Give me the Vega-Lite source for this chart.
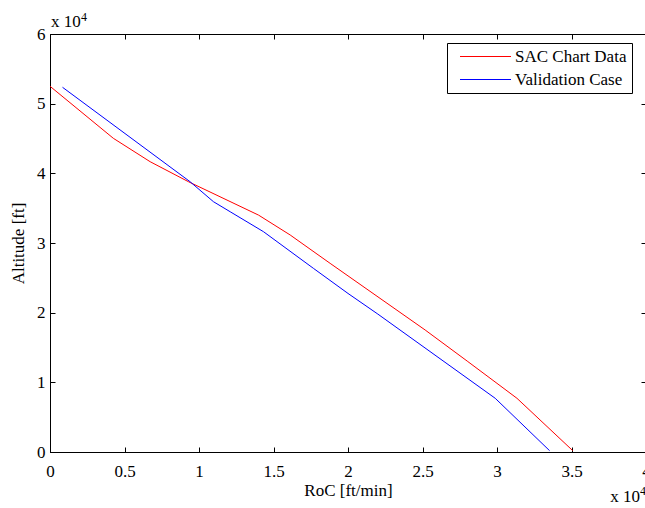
{
  "$schema": "https://vega.github.io/schema/vega-lite/v6.json",
  "width": 596,
  "height": 418,
  "autosize": {"type": "none"},
  "padding": {"left": 50, "top": 34, "right": 0, "bottom": 56},
  "background": "white",
  "config": {
    "view": {"stroke": "black", "strokeWidth": 1},
    "font": "Liberation Serif",
    "axis": {
      "grid": false,
      "domainColor": "black",
      "tickColor": "black",
      "tickSize": -5,
      "labelColor": "black",
      "labelFont": "Liberation Serif",
      "labelFontSize": 17,
      "labelFlush": false,
      "labelOverlap": false,
      "titleFont": "Liberation Serif",
      "titleFontSize": 17,
      "titleFontWeight": "normal",
      "titleColor": "black"
    }
  },
  "datasets": {
    "curves": [
      {"series": "SAC Chart Data", "roc": 0, "alt": 52500},
      {"series": "SAC Chart Data", "roc": 4250, "alt": 45030},
      {"series": "SAC Chart Data", "roc": 6720, "alt": 41670},
      {"series": "SAC Chart Data", "roc": 9290, "alt": 38800},
      {"series": "SAC Chart Data", "roc": 14000, "alt": 34000},
      {"series": "SAC Chart Data", "roc": 16120, "alt": 31150},
      {"series": "SAC Chart Data", "roc": 18800, "alt": 27080},
      {"series": "SAC Chart Data", "roc": 25180, "alt": 17510},
      {"series": "SAC Chart Data", "roc": 28000, "alt": 13050},
      {"series": "SAC Chart Data", "roc": 31340, "alt": 7710},
      {"series": "SAC Chart Data", "roc": 35080, "alt": 200},
      {"series": "Validation Case", "roc": 840, "alt": 52350},
      {"series": "Validation Case", "roc": 9400, "alt": 38800},
      {"series": "Validation Case", "roc": 10970, "alt": 35930},
      {"series": "Validation Case", "roc": 12090, "alt": 34490},
      {"series": "Validation Case", "roc": 14330, "alt": 31620},
      {"series": "Validation Case", "roc": 17680, "alt": 26360},
      {"series": "Validation Case", "roc": 20000, "alt": 22760},
      {"series": "Validation Case", "roc": 22000, "alt": 19800},
      {"series": "Validation Case", "roc": 29880, "alt": 7710},
      {"series": "Validation Case", "roc": 33530, "alt": 190}
    ],
    "exponents": [
      {"name": "y", "base": "x 10", "power": "4"}
    ]
  },
  "layer": [
    {
      "data": {"name": "curves"},
      "mark": {"type": "line", "strokeWidth": 1, "clip": true},
      "encoding": {
        "x": {
          "field": "roc",
          "type": "quantitative",
          "scale": {"domain": [0, 40000], "nice": false, "zero": false},
          "axis": {
            "orient": "bottom",
            "values": [0, 5000, 10000, 15000, 20000, 25000, 30000, 35000, 40000],
            "labelExpr": "'' + datum.value / 10000",
            "labelPadding": 16,
            "title": "RoC [ft/min]",
            "titleY": 43,
            "titleBaseline": "alphabetic"
          }
        },
        "y": {
          "field": "alt",
          "type": "quantitative",
          "scale": {"domain": [0, 60000], "nice": false, "zero": false},
          "axis": {
            "orient": "left",
            "values": [0, 10000, 20000, 30000, 40000, 50000, 60000],
            "labelExpr": "'' + datum.value / 10000",
            "labelPadding": 10,
            "title": "Altitude [ft]",
            "titleX": -32,
            "titleY": 209,
            "titleAngle": -90,
            "titleBaseline": "middle"
          }
        },
        "color": {
          "field": "series",
          "type": "nominal",
          "scale": {"domain": ["SAC Chart Data", "Validation Case"], "range": ["#ff0000", "#0000ff"]},
          "legend": {
            "orient": "none",
            "legendX": 397,
            "legendY": 9,
            "title": null,
            "symbolType": "M-0.1,0H10.1",
            "symbolSize": 100,
            "symbolStrokeWidth": 1,
            "symbolFillColor": "transparent",
            "labelFont": "Liberation Serif",
            "labelFontSize": 17,
            "labelColor": "black",
            "labelOffset": 46,
            "rowPadding": 5,
            "strokeColor": "black",
            "fillColor": "white",
            "padding": 5,
            "cornerRadius": 0
          }
        }
      }
    },
    {
      "data": {"name": "curves"},
      "mark": {"type": "line", "opacity": 0},
      "encoding": {
        "x": {
          "field": "roc",
          "type": "quantitative",
          "scale": {"domain": [0, 40000], "nice": false, "zero": false},
          "axis": {
            "orient": "top",
            "values": [0, 5000, 10000, 15000, 20000, 25000, 30000, 35000, 40000],
            "labels": false,
            "domain": false,
            "title": null
          }
        },
        "y": {
          "field": "alt",
          "type": "quantitative",
          "scale": {"domain": [0, 60000], "nice": false, "zero": false},
          "axis": {
            "orient": "right",
            "values": [0, 10000, 20000, 30000, 40000, 50000, 60000],
            "labels": false,
            "domain": false,
            "title": null
          }
        },
        "detail": {"field": "series"}
      }
    },
    {
      "data": {"name": "exponents"},
      "mark": {"type": "text", "align": "left", "baseline": "alphabetic", "fontSize": 17, "font": "Liberation Serif", "color": "black", "dx": 1, "dy": -7},
      "encoding": {
        "x": {"datum": 0, "axis": null},
        "y": {"datum": 60000, "axis": null},
        "text": {"field": "base"}
      }
    },
    {
      "data": {"name": "exponents"},
      "mark": {"type": "text", "align": "left", "baseline": "alphabetic", "fontSize": 12, "font": "Liberation Serif", "color": "black", "dx": 31, "dy": -13},
      "encoding": {
        "x": {"datum": 0, "axis": null},
        "y": {"datum": 60000, "axis": null},
        "text": {"field": "power"}
      }
    },
    {
      "data": {"name": "exponents"},
      "mark": {"type": "text", "align": "right", "baseline": "alphabetic", "fontSize": 17, "font": "Liberation Serif", "color": "black", "dx": -6, "dy": 50},
      "encoding": {
        "x": {"datum": 40000, "axis": null},
        "y": {"datum": 0, "axis": null},
        "text": {"field": "base"}
      }
    },
    {
      "data": {"name": "exponents"},
      "mark": {"type": "text", "align": "left", "baseline": "alphabetic", "fontSize": 12, "font": "Liberation Serif", "color": "black", "dx": -6, "dy": 43},
      "encoding": {
        "x": {"datum": 40000, "axis": null},
        "y": {"datum": 0, "axis": null},
        "text": {"field": "power"}
      }
    }
  ],
  "resolve": {"axis": {"x": "independent", "y": "independent"}}
}
